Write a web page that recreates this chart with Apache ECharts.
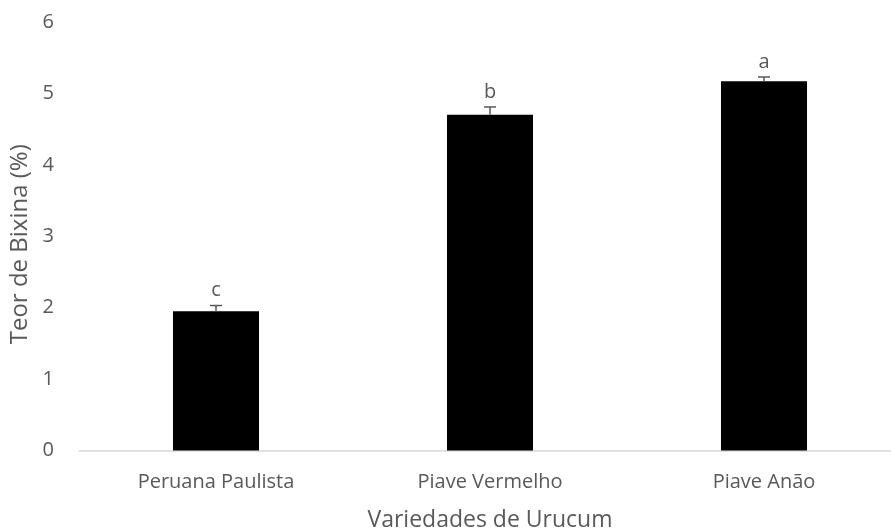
<!DOCTYPE html>
<html>
<head>
<meta charset="utf-8">
<script src="https://cdn.jsdelivr.net/npm/echarts@6/dist/echarts.min.js"></script>
<style>
  html, body { margin: 0; padding: 0; background: #fff; }
  #chart { width: 891px; height: 531px; }
</style>
</head>
<body>
<div id="chart"></div>
<script>
// Bixin content by annatto variety
const categories = ['Peruana Paulista', 'Piave Vermelho', 'Piave Anão'];
const bixina = [1.95, 4.70, 5.17];
const erro = [0.08, 0.11, 0.06];
const letras = ['c', 'b', 'a'];
const yTicks = [0, 1, 2, 3, 4, 5, 6];

const textColor = '#595959';
const fontFamily = '"Open Sans", "Noto Sans", sans-serif';

const errData = categories.map((c, i) => [i, bixina[i], erro[i], letras[i]]);

const chart = echarts.init(document.getElementById('chart'));
chart.setOption({
  animation: false,
  grid: { left: 79, top: 22, width: 822, height: 428.5, containLabel: false, outerBoundsMode: 'none' },
  xAxis: {
    type: 'category',
    data: categories,
    axisLine: { lineStyle: { color: '#d9d9d9', width: 1.5 } },
    axisTick: { show: false },
    axisLabel: { color: textColor, fontSize: 20, fontFamily: fontFamily, margin: 22 },
    name: 'Variedades de Urucum',
    nameLocation: 'middle',
    nameGap: 58,
    nameTextStyle: { color: textColor, fontSize: 23, fontFamily: fontFamily }
  },
  yAxis: {
    type: 'value',
    min: yTicks[0],
    max: yTicks[yTicks.length - 1],
    interval: 1,
    splitLine: { show: false },
    axisLine: { show: false },
    axisTick: { show: false },
    axisLabel: { color: textColor, fontSize: 20, fontFamily: fontFamily, margin: 25 },
    name: 'Teor de Bixina (%)',
    nameLocation: 'middle',
    nameGap: 47,
    nameTextStyle: { color: textColor, fontSize: 24, fontFamily: fontFamily, padding: [0, 16, 0, 0] }
  },
  series: [
    {
      type: 'bar',
      data: bixina,
      barWidth: '31.4%',
      itemStyle: { color: '#000000' }
    },
    {
      type: 'custom',
      data: errData,
      z: 10,
      renderItem: function (params, api) {
        const x = api.value(0);
        const v = api.value(1);
        const e = api.value(2);
        const top = api.coord([x, v + e]);
        const base = api.coord([x, v]);
        const half = 6;
        return {
          type: 'group',
          children: [
            { type: 'line', shape: { x1: top[0], y1: top[1], x2: base[0], y2: base[1] },
              style: { stroke: '#595959', lineWidth: 1.5 } },
            { type: 'line', shape: { x1: top[0] - half, y1: top[1], x2: top[0] + half, y2: top[1] },
              style: { stroke: '#595959', lineWidth: 1.5 } },
            { type: 'text',
              style: { text: api.value(3), x: top[0], y: top[1] - 5,
                       textAlign: 'center', textVerticalAlign: 'bottom',
                       fill: textColor, fontSize: 20, fontFamily: fontFamily } }
          ]
        };
      }
    }
  ]
});
</script>
</body>
</html>
